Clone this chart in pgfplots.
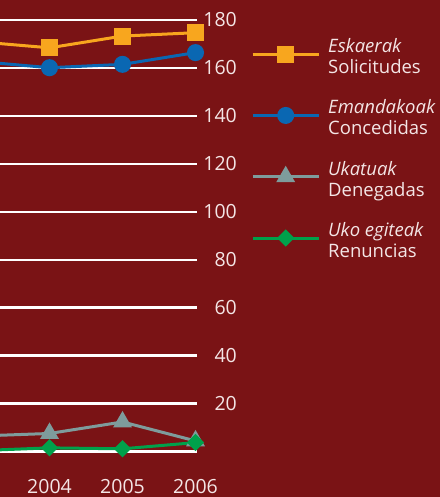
\documentclass[border=0pt]{standalone}
\usepackage{fontspec}
\setmainfont{Open Sans}
\usepackage{pgfplots}
\pgfplotsset{compat=1.18}
\definecolor{bgred}{HTML}{7A1315}
\definecolor{txt}{HTML}{F4E6E6}
\definecolor{cOrange}{HTML}{F8A61E}
\definecolor{cBlue}{HTML}{0A67B2}
\definecolor{cGray}{HTML}{7E9C9C}
\definecolor{cGreen}{HTML}{00A14B}

\newcommand{\two}[2]{\begin{tabular}{@{}l@{}}\textit{#1}\\#2\end{tabular}}

\begin{document}
\begin{tikzpicture}
\useasboundingbox (0,0) rectangle (440bp,497bp);
\clip (0,0) rectangle (440bp,497bp);
\fill[bgred] (0,0) rectangle (440bp,497bp);
\begin{axis}[
  at={(0bp,45.3bp)}, anchor=south west,
  scale only axis, width=196.7bp, height=431.7bp,
  xmin=2003.322, xmax=2006.016, ymin=0, ymax=180,
  clip=false,
  axis line style={draw=none},
  major tick length=0pt,
  xtick={2004,2005,2006},
  xticklabels={2004,2005,2006},
  ytick={0,20,...,180},
  yticklabels={,20,40,60,80,100,120,140,160,180},
  yticklabel pos=right,
  ymajorgrids,
  grid style={color=white, line width=2.6bp},
  ticklabel style={font=\fontsize{19.5bp}{22bp}\selectfont, text=txt, inner sep=0pt},
  yticklabel style={anchor=east, xshift=40.3bp},
  xticklabel style={anchor=north, yshift=-27bp},
  every axis plot/.append style={line width=3bp},
  legend image code/.code={
    \draw[yshift=-2.8bp, mark repeat=2, mark phase=2, #1] plot coordinates {(0bp,0bp) (33bp,0bp) (66bp,0bp)};
    \path (0bp,29.15bp) (74bp,-29.15bp);
  },
  legend style={draw=none, fill=none, inner sep=0pt, at={(1,1)}, anchor=north west,
    xshift=54.3bp, yshift=-0.5bp,
    font=\fontsize{18.5bp}{21bp}\selectfont, text=txt,
    cells={anchor=west}, nodes={inner sep=0pt}},
]
\addplot[cOrange, mark=square*, mark size=7bp] coordinates {
  (2003,171) (2004,168.4) (2005,173.3) (2006,174.7)};
\addlegendentry{\two{Eskaerak}{Solicitudes}}
\addplot[cBlue, mark=*, mark size=7bp] coordinates {
  (2003,162.8) (2004,160.1) (2005,161.5) (2006,166.4)};
\addlegendentry{\two{Emandakoak}{Concedidas}}
\addplot[cGray, mark=triangle*, mark size=8bp] coordinates {
  (2003,6.5) (2004,7.6) (2005,12.4) (2006,4.5)};
\addlegendentry{\two{Ukatuak}{Denegadas}}
\addplot[cGreen, mark=square*, mark size=4.6bp, mark options={rotate=45}] coordinates {
  (2003,0.4) (2004,1.6) (2005,1.2) (2006,3.8)};
\addlegendentry{\two{Uko egiteak}{Renuncias}}
\end{axis}
\end{tikzpicture}
\end{document}
